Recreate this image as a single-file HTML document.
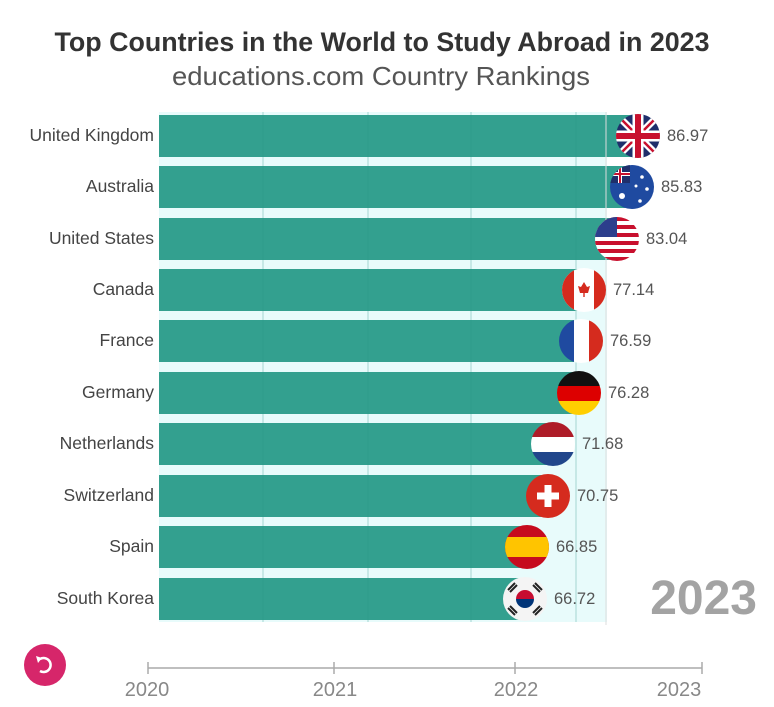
<!DOCTYPE html>
<html><head><meta charset="utf-8"><style>
body{margin:0;background:#fff;}
svg{display:block;font-family:"Liberation Sans",sans-serif;}
</style></head><body>
<svg width="774" height="707" viewBox="0 0 774 707" xmlns="http://www.w3.org/2000/svg">
<defs>
<clipPath id="c"><circle r="22"/></clipPath>
</defs>
<text x="382" y="51" text-anchor="middle" font-size="27" font-weight="bold" fill="#333" textLength="655" lengthAdjust="spacingAndGlyphs">Top Countries in the World to Study Abroad in 2023</text>
<text x="381" y="85" text-anchor="middle" font-size="26" fill="#555" textLength="418" lengthAdjust="spacingAndGlyphs">educations.com Country Rankings</text>
<rect x="159" y="112" width="448" height="510" fill="#e8fbfb"/>
<g fill="#33a08f">
<rect x="159" y="115" width="479" height="42"/>
<rect x="159" y="166" width="473" height="42"/>
<rect x="159" y="218" width="458" height="42"/>
<rect x="159" y="269" width="425" height="42"/>
<rect x="159" y="320" width="422" height="42"/>
<rect x="159" y="372" width="420" height="42"/>
<rect x="159" y="423" width="394" height="42"/>
<rect x="159" y="475" width="389" height="42"/>
<rect x="159" y="526" width="368" height="42"/>
<rect x="159" y="578" width="366" height="42"/>
</g>
<g stroke="#2a9384" stroke-width="1" opacity="0.35">
<line x1="263" y1="112" x2="263" y2="622"/><line x1="368" y1="112" x2="368" y2="622"/>
<line x1="471" y1="112" x2="471" y2="622"/><line x1="576" y1="112" x2="576" y2="622"/>
</g>
<line x1="606" y1="112" x2="606" y2="625" stroke="#ddd"/>
<g font-size="17.5" fill="#444" text-anchor="end">
<text x="154" y="141">United Kingdom</text><text x="154" y="192">Australia</text>
<text x="154" y="244">United States</text><text x="154" y="295">Canada</text>
<text x="154" y="346">France</text><text x="154" y="398">Germany</text>
<text x="154" y="449">Netherlands</text><text x="154" y="501">Switzerland</text>
<text x="154" y="552">Spain</text><text x="154" y="604">South Korea</text>
</g>
<!-- flags -->
<g transform="translate(638,136)"><g clip-path="url(#c)"><rect x="-22" y="-22" width="44" height="44" fill="#1f2f6b"/><path d="M-22-22L22 22M22-22L-22 22" stroke="#fff" stroke-width="7"/><path d="M-22-22L22 22M22-22L-22 22" stroke="#c8102e" stroke-width="2.5"/><path d="M0-22V22M-22 0H22" stroke="#fff" stroke-width="11"/><path d="M0-22V22M-22 0H22" stroke="#c8102e" stroke-width="6"/></g></g>
<g transform="translate(632,187)"><g clip-path="url(#c)"><rect x="-22" y="-22" width="44" height="44" fill="#1f4aa0"/><rect x="-22" y="-22" width="20" height="18" fill="#1f2f6b"/><path d="M-12-22V-4M-22-13H-2" stroke="#fff" stroke-width="4"/><path d="M-12-22V-4M-22-13H-2" stroke="#c8102e" stroke-width="2"/><circle cx="-10" cy="9" r="3" fill="#fff"/><circle cx="10" cy="-10" r="1.8" fill="#fff"/><circle cx="15" cy="2" r="1.8" fill="#fff"/><circle cx="8" cy="14" r="1.8" fill="#fff"/><circle cx="4" cy="-1" r="1.5" fill="#fff"/></g></g>
<g transform="translate(617,239)"><g clip-path="url(#c)"><rect x="-22" y="-22" width="44" height="44" fill="#fff"/><g fill="#c8102e"><rect x="-22" y="-22" width="44" height="4"/><rect x="-22" y="-14" width="44" height="4"/><rect x="-22" y="-6" width="44" height="4"/><rect x="-22" y="2" width="44" height="4"/><rect x="-22" y="10" width="44" height="4"/><rect x="-22" y="18" width="44" height="4"/></g><rect x="-22" y="-22" width="22" height="20" fill="#2c3e8c"/></g></g>
<g transform="translate(584,290)"><g clip-path="url(#c)"><rect x="-22" y="-22" width="44" height="44" fill="#fff"/><rect x="-22" y="-22" width="12" height="44" fill="#d52b1e"/><rect x="10" y="-22" width="12" height="44" fill="#d52b1e"/><path d="M0-8L3-3 6-4 4 3H-4L-6-4-3-3Z" fill="#d52b1e"/><rect x="-0.7" y="2" width="1.4" height="5" fill="#d52b1e"/></g></g>
<g transform="translate(581,341)"><g clip-path="url(#c)"><rect x="-22" y="-22" width="15" height="44" fill="#1f4aa0"/><rect x="-7" y="-22" width="15" height="44" fill="#fff"/><rect x="8" y="-22" width="14" height="44" fill="#d52b1e"/></g></g>
<g transform="translate(579,393)"><g clip-path="url(#c)"><rect x="-22" y="-22" width="44" height="15" fill="#111"/><rect x="-22" y="-7" width="44" height="15" fill="#dd0000"/><rect x="-22" y="8" width="44" height="14" fill="#ffce00"/></g></g>
<g transform="translate(553,444)"><g clip-path="url(#c)"><rect x="-22" y="-22" width="44" height="15" fill="#ae1c28"/><rect x="-22" y="-7" width="44" height="15" fill="#fff"/><rect x="-22" y="8" width="44" height="14" fill="#21468b"/></g></g>
<g transform="translate(548,496)"><g clip-path="url(#c)"><rect x="-22" y="-22" width="44" height="44" fill="#d52b1e"/><rect x="-3.5" y="-11" width="7" height="22" fill="#fff"/><rect x="-11" y="-3.5" width="22" height="7" fill="#fff"/></g></g>
<g transform="translate(527,547)"><g clip-path="url(#c)"><rect x="-22" y="-22" width="44" height="44" fill="#c60b1e"/><rect x="-22" y="-10" width="44" height="20" fill="#ffc400"/></g></g>
<g transform="translate(525,599)"><g clip-path="url(#c)"><rect x="-22" y="-22" width="44" height="44" fill="#f4f4f4"/><path d="M-9 0A9 9 0 0 1 9 0Z" fill="#c60c30"/><path d="M-9 0A9 9 0 0 0 9 0Z" fill="#003478"/><g stroke="#222" stroke-width="2"><path d="M-17-9L-10-16M-15-7L-8-14M17 9L10 16M15 7L8 14M17-9L10-16M15-7L8-14M-17 9L-10 16M-15 7L-8 14"/></g></g></g>
<g font-size="16.5" fill="#555">
<text x="667" y="141">86.97</text><text x="661" y="192">85.83</text><text x="646" y="244">83.04</text>
<text x="613" y="295">77.14</text><text x="610" y="346">76.59</text><text x="608" y="398">76.28</text>
<text x="582" y="449">71.68</text><text x="577" y="501">70.75</text><text x="556" y="552">66.85</text>
<text x="554" y="604">66.72</text>
</g>
<text x="757" y="614" text-anchor="end" font-size="48" font-weight="bold" fill="#a3a3a3">2023</text>
<circle cx="45" cy="665" r="21" fill="#d6266a"/>
<path d="M40 659A7 7 0 1 1 40 671" fill="none" stroke="#fff" stroke-width="2.5"/>
<path d="M36 656L42 658 38 663Z" fill="#fff"/>
<g stroke="#aaa" stroke-width="1.5"><line x1="148" y1="668" x2="702" y2="668"/><line x1="148" y1="662" x2="148" y2="674"/><line x1="334" y1="662" x2="334" y2="674"/><line x1="515" y1="662" x2="515" y2="674"/><line x1="702" y1="662" x2="702" y2="674"/></g>
<g font-size="20" fill="#888" text-anchor="middle">
<text x="147" y="696">2020</text><text x="335" y="696">2021</text><text x="516" y="696">2022</text><text x="679" y="696">2023</text>
</g>
</svg>
</body></html>
